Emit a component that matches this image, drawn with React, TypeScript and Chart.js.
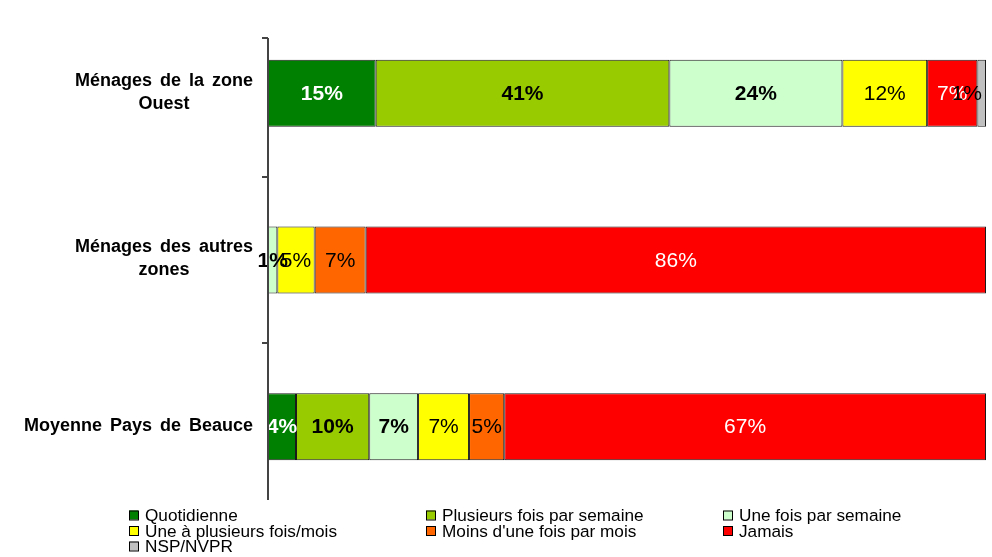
import React, { useEffect, useRef } from "react";
import { Chart, registerables } from "chart.js";

Chart.register(...registerables);

const categories: string[][] = [
  ["Ménages de la zone", "Ouest"],
  ["Ménages des autres", "zones"],
  ["Moyenne Pays de Beauce"],
];

const seriesNames = [
  "Quotidienne",
  "Plusieurs fois par semaine",
  "Une fois par semaine",
  "Une à plusieurs fois/mois",
  "Moins d'une fois par mois",
  "Jamais",
  "NSP/NVPR",
];

const quotidienne = [15.0, 0, 3.9];
const plusieursFoisSemaine = [40.9, 0, 10.2];
const uneFoisSemaine = [24.1, 1.3, 6.8];
const uneAPlusieursMois = [11.8, 5.2, 7.1];
const moinsUneFoisMois = [0, 7.1, 4.9];
const jamais = [7.0, 86.4, 67.1];
const nspNvpr = [1.2, 0, 0];

const seriesValues = [
  quotidienne,
  plusieursFoisSemaine,
  uneFoisSemaine,
  uneAPlusieursMois,
  moinsUneFoisMois,
  jamais,
  nspNvpr,
];

const colors = ["#008000", "#99CC00", "#CCFFCC", "#FFFF00", "#FF6600", "#FF0000", "#C0C0C0"];
const labelColors = ["#FFFFFF", "#000000", "#000000", "#000000", "#000000", "#FFFFFF", "#000000"];
const labelBold = [true, true, true, false, false, false, false];

const FONT = "'Liberation Sans', Arial, Helvetica, sans-serif";

const overlayPlugin = {
  id: "overlay",
  afterDatasetsDraw(chart: any) {
    const ctx = chart.ctx;
    const area = chart.chartArea;
    const yScale = chart.scales.y;
    ctx.save();

    // value labels
    chart.data.datasets.forEach((ds: any, di: number) => {
      const meta = chart.getDatasetMeta(di);
      meta.data.forEach((el: any, i: number) => {
        const v = ds.data[i];
        if (!v || v <= 0) return;
        const txt = Math.round(v) + "%";
        ctx.font = (labelBold[di] ? "bold " : "") + "21px " + FONT;
        ctx.fillStyle = labelColors[di];
        ctx.textAlign = "center";
        ctx.textBaseline = "middle";
        const w = ctx.measureText(txt).width;
        let cx = (el.x + el.base) / 2;
        if (cx + w / 2 > area.right - 4) cx = area.right - 4 - w / 2;
        ctx.fillText(txt, cx, el.y + 1);
      });
    });

    // axis line + ticks
    ctx.strokeStyle = "#444444";
    ctx.lineWidth = 2;
    const axX = area.left;
    const topY = area.top + 28;
    const botY = area.bottom - 10;
    ctx.beginPath();
    ctx.moveTo(axX, topY);
    ctx.lineTo(axX, botY);
    ctx.stroke();
    const n = categories.length;
    const band = (area.bottom - area.top) / n;
    const tickYs = [topY];
    for (let i = 1; i < n; i++) tickYs.push(area.top + band * i);
    tickYs.forEach((ty) => {
      ctx.beginPath();
      ctx.moveTo(axX - 6, Math.round(ty));
      ctx.lineTo(axX, Math.round(ty));
      ctx.stroke();
    });

    // category labels
    ctx.fillStyle = "#000000";
    ctx.font = "bold 18px " + FONT;
    try {
      (ctx as any).wordSpacing = "3px";
    } catch (e) {}
    ctx.textBaseline = "middle";
    ctx.textAlign = "center";
    const lh = 23;
    categories.forEach((lines, i) => {
      const cy = yScale.getPixelForValue(i);
      const maxW = Math.max(...lines.map((l) => ctx.measureText(l).width));
      const cx = axX - 15 - maxW / 2;
      const y0 = cy - 1 - ((lines.length - 1) * lh) / 2;
      lines.forEach((l, k) => ctx.fillText(l, cx, y0 + k * lh));
    });
    try {
      (ctx as any).wordSpacing = "0px";
    } catch (e) {}

    // legend
    const colX = [129, 426, 723];
    const rowY = [515.5, 531, 546.5];
    ctx.font = "17.2px " + FONT;
    ctx.textAlign = "left";
    ctx.textBaseline = "middle";
    chart.data.datasets.forEach((ds: any, di: number) => {
      const c = di % 3;
      const r = Math.floor(di / 3);
      const bx = colX[c];
      const by = rowY[r];
      ctx.fillStyle = colors[di];
      ctx.fillRect(bx, by - 5, 9, 9);
      ctx.strokeStyle = "#000000";
      ctx.lineWidth = 1;
      ctx.strokeRect(bx + 0.5, by - 4.5, 9, 9);
      ctx.fillStyle = "#000000";
      ctx.fillText(ds.label, bx + 16, by + 1);
    });

    ctx.restore();
  },
};

export default function App() {
  const ref = useRef<HTMLCanvasElement | null>(null);
  useEffect(() => {
    if (!ref.current) return;
    const chart = new Chart(ref.current, {
      type: "bar",
      data: {
        labels: categories.map((c) => c.join(" ")),
        datasets: seriesNames.map((name, i) => ({
          label: name,
          data: seriesValues[i],
          backgroundColor: colors[i],
          borderColor: "#1a1a1a",
          borderWidth: 1,
          borderSkipped: false,
          barPercentage: 0.402,
          categoryPercentage: 1,
        })),
      },
      options: {
        indexAxis: "y",
        animation: false,
        responsive: false,
        devicePixelRatio: 1,
        layout: { padding: { top: 10, bottom: 47, right: 6, left: 0 } },
        plugins: {
          legend: { display: false },
          tooltip: { enabled: false },
        },
        scales: {
          x: { stacked: true, min: 0, max: 100, display: false },
          y: {
            stacked: true,
            grid: { display: false },
            border: { display: false },
            ticks: { display: false },
            afterFit: (scale: any) => {
              scale.width = 268;
            },
          },
        },
      },
      plugins: [overlayPlugin],
    });
    return () => chart.destroy();
  }, []);

  return (
    <div style={{ position: "fixed", left: 0, top: 0, width: 992, height: 557, background: "#fff" }}>
      <canvas ref={ref} width={992} height={557} style={{ display: "block" }} />
    </div>
  );
}
